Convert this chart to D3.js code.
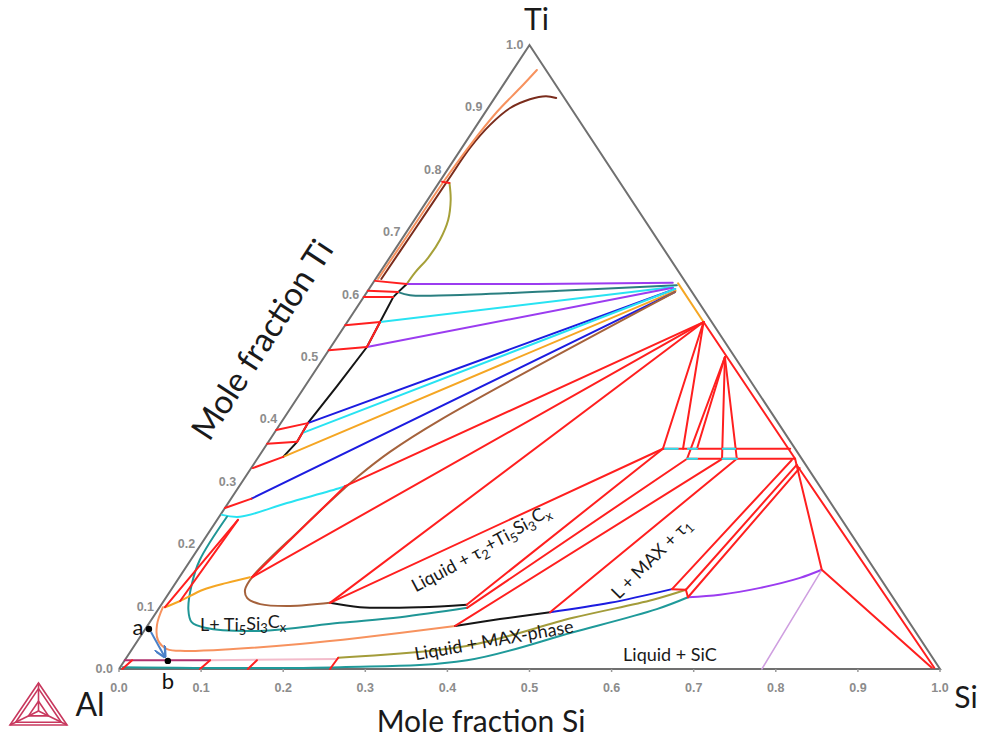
<!DOCTYPE html>
<html><head><meta charset="utf-8">
<script src="https://cdn.jsdelivr.net/npm/d3@7"></script>
<style>
html,body{margin:0;background:#fff;}
svg{display:block;}
</style></head>
<body><svg id="chart" width="991" height="740"></svg>
<script>
// Al–Si–Ti ternary section. Every point is [xSi, xTi] (mole fraction); xAl = 1 - xSi - xTi.
const tickValues = [0, 0.1, 0.2, 0.3, 0.4, 0.5, 0.6, 0.7, 0.8, 0.9, 1.0];
const tickLabels = ["0.0","0.1","0.2","0.3","0.4","0.5","0.6","0.7","0.8","0.9","1.0"];

// Ti-rich corner
const tiSalmon = [[0.029,0.960],[0.023,0.931],[0.014,0.893],[0.008,0.840],[0.005,0.784],[0.004,0.700],[0.003,0.625]];
const tiBrown  = [[0.075,0.915],[0.061,0.918],[0.044,0.913],[0.027,0.899],[0.016,0.872],[0.010,0.835],[0.009,0.784],[0.008,0.700],[0.007,0.625]];
const tiOlive  = [[0.013,0.779],[0.028,0.752],[0.041,0.720],[0.047,0.688],[0.047,0.659],[0.043,0.636],[0.042,0.617]];
const leftBlack = [[0.042,0.617],[0.038,0.604],[0.036,0.596],[0.040,0.556],[0.044,0.516],[0.039,0.455],[0.033,0.394],[0.035,0.364],[0.030,0.340]];

// boundaries running to the Ti5Si3-side node
const purpleA = [[0.042,0.617],[0.200,0.617],[0.365,0.619]];
const tealA   = [[0.038,0.604],[0.055,0.599],[0.104,0.599],[0.234,0.606],[0.372,0.615]];
const cyanA   = [[0.040,0.556],[0.369,0.612]];
const purpleB = [[0.044,0.516],[0.369,0.611]];
const blueA   = [[0.033,0.394],[0.373,0.609]];
const cyanB   = [[0.034,0.378],[0.373,0.609]];
const goldA   = [[0.030,0.340],[0.375,0.606]];
const blueB   = [[0.025,0.273],[0.375,0.604]];
const goldB   = [[0.372,0.618],[0.434,0.556]];
const brownLoop = [[0.375,0.604],[0.1915,0.399],[0.156,0.348],[0.137,0.309],[0.130,0.290],[0.109,0.223],[0.0885,0.147],[0.090,0.127],[0.099,0.114],[0.120,0.104],[0.158,0.101],[0.204,0.106]];
const cyanC   = [[0.002,0.247],[0.0254,0.244],[0.0716,0.266],[0.124,0.290],[0.129,0.293]];

// Al-rich liquid boundaries
const blackLow  = [[0.204,0.106],[0.244,0.099],[0.317,0.099],[0.372,0.103]];
const tealLoop  = [[0.0095,0.244],[0.011,0.175],[0.021,0.135],[0.037,0.095],[0.051,0.075],[0.072,0.066],[0.141,0.061],[0.232,0.074],[0.301,0.083],[0.375,0.098]];
const goldLow   = [[0.086,0.147],[0.0625,0.138],[0.039,0.127],[0.020,0.109],[0.0065,0.099]];
const salmonLow = [[0.004,0.099],[0.011,0.0705],[0.0245,0.046],[0.0425,0.032],[0.066,0.029],[0.123,0.032],[0.2005,0.040],[0.2685,0.050],[0.375,0.069]];
const blackMid  = [[0.375,0.069],[0.424,0.080],[0.4795,0.091]];
const blueLow   = [[0.4795,0.091],[0.545,0.106],[0.6096,0.128]];
const oliveLow  = [[0.258,0.018],[0.405,0.037],[0.512,0.082],[0.595,0.111],[0.627,0.127]];
const tealLow   = [[0.003,0.003],[0.268,0.003],[0.417,0.014],[0.5235,0.059],[0.607,0.096],[0.6355,0.115]];
const purpleRight = [[0.6355,0.115],[0.6725,0.119],[0.716,0.130],[0.7565,0.146],[0.7765,0.159]];
const lilacLine = [[0.7765,0.159],[0.783,0.0]];
const magentaLine = [[0.0,0.014],[0.104,0.014]];
const pinkLine = [[0.104,0.014],[0.258,0.016]];

// tie-lines
const leftTies = [
  [[0.003,0.781],[0.013,0.779]],
  [[0.001,0.622],[0.042,0.617]],
  [[0.0,0.606],[0.038,0.604]],
  [[0.0,0.596],[0.036,0.596]],
  [[0.0,0.551],[0.040,0.556]],
  [[0.0,0.511],[0.044,0.516]],
  [[0.040,0.556],[0.044,0.516]],
  [[0.0,0.383],[0.033,0.394]],
  [[0.0,0.361],[0.035,0.364]],
  [[0.033,0.394],[0.035,0.364]],
  [[0.002,0.322],[0.030,0.340]],
  [[0.0,0.258],[0.025,0.273]],
  [[0.0254,0.239],[0.0065,0.099]],
  [[0.0254,0.239],[0.020,0.109]]
];
const fanTies = [
  [[0.434,0.556],[0.129,0.293]],
  [[0.434,0.556],[0.0885,0.147]],
  [[0.434,0.556],[0.204,0.106]],
  [[0.129,0.293],[0.0885,0.147]],
  [[0.204,0.106],[0.486,0.353]],
  [[0.372,0.103],[0.486,0.353]],
  [[0.375,0.098],[0.5235,0.337]],
  [[0.375,0.069],[0.5667,0.337]],
  [[0.4795,0.091],[0.584,0.337]],
  [[0.6096,0.128],[0.652,0.335]],
  [[0.627,0.127],[0.662,0.327]],
  [[0.6355,0.115],[0.668,0.322]],
  [[0.6096,0.128],[0.627,0.127]],
  [[0.627,0.127],[0.6355,0.115]]
];
const upperTies = [
  [[0.434,0.556],[0.486,0.353]],
  [[0.434,0.556],[0.5105,0.353]],
  [[0.488,0.500],[0.5235,0.337]],
  [[0.488,0.500],[0.5275,0.353]],
  [[0.488,0.500],[0.566,0.337]],
  [[0.488,0.500],[0.584,0.337]],
  [[0.486,0.353],[0.641,0.353]],
  [[0.5235,0.337],[0.655,0.337]],
  [[0.434,0.556],[0.655,0.337]],
  [[0.655,0.337],[0.7765,0.159],[0.989,0.002]],
  [[0.662,0.327],[0.992,0.002]]
];
const cyanSegments = [
  [[0.4886,0.353],[0.504,0.353]],
  [[0.5165,0.353],[0.5275,0.353]],
  [[0.559,0.353],[0.574,0.353]],
  [[0.5235,0.337],[0.5355,0.337]],
  [[0.5667,0.337],[0.584,0.337]]
];
const baseTies = [
  [[0.004,0.0],[0.009,0.014]],
  [[0.0987,0.0],[0.104,0.014]],
  [[0.157,0.0],[0.161,0.014]],
  [[0.257,0.0],[0.258,0.018]]
];

// marked alloy compositions
const pointNames = ["a", "b"];
const pointComp = [[0.0045,0.064],[0.053,0.013]];

// region labels
const regionText = ["Liquid + SiC", "Liquid + MAX-phase", "L+ Ti5Si3Cx", "Liquid + τ2+Ti5Si3Cx", "L + MAX + τ1"];
const regionComp = [[0.660,0.022],[0.435,0.046],[0.116,0.0705],[0.350,0.191],[0.564,0.1795]];

const svg = d3.select("#chart");
const x = d3.scaleLinear().domain([0, 1]).range([119, 940]);
const y = d3.scaleLinear().domain([0, 1]).range([669, 45]);
const px = d => x(d[0] + d[1] / 2);
const py = d => y(d[1]);
const straight = d3.line().x(px).y(py);
const smooth = d3.line().x(px).y(py).curve(d3.curveCatmullRom.alpha(0.5));

const g = svg.append("g");
function path(data, color, w, curved) {
  g.append("path").attr("d", (curved ? smooth : straight)(data))
    .attr("fill", "none").attr("stroke", color).attr("stroke-width", w || 2)
    .attr("stroke-linejoin", "round").attr("stroke-linecap", "round");
}

// triangle frame
const corners = [[0,0],[1,0],[0,1],[0,0]];
g.append("path").attr("d", straight(corners)).attr("fill", "none")
  .attr("stroke", "#707070").attr("stroke-width", 2).attr("stroke-linejoin", "miter");

// Ti corner
path(tiBrown, "#7a2c1c", 2, true);
path(tiSalmon, "#f7925e", 2, true);
path(tiOlive, "#a6a038", 2, true);
path(leftBlack, "#151515", 2, false);

// lines fanning into the node
path(purpleA, "#9b3cf0", 2, true);
path(tealA, "#2a7f80", 2, true);
path(cyanA, "#28e3f2", 2);
path(purpleB, "#9b3cf0", 2);
path(blueA, "#1c1ce0", 2);
path(cyanB, "#28e3f2", 2);
path(goldA, "#f5a623", 2);
path(blueB, "#1c1ce0", 2);
path(goldB, "#f5a623", 2);
path(brownLoop, "#a5623c", 2, true);
path(cyanC, "#28e3f2", 2, true);

// Al-rich side
path(tealLoop, "#1f9696", 2, true);
path(goldLow, "#f5a623", 2, true);
path(salmonLow, "#f7925e", 2, true);
path(blackLow, "#151515", 2, true);
path(blackMid, "#151515", 2, true);
path(blueLow, "#1c1ce0", 2, true);
path(oliveLow, "#a39c3a", 2, true);
path(tealLow, "#1f9a9a", 2, true);
path(purpleRight, "#9b3cf0", 2, true);
path(lilacLine, "#cf9fe0", 1.5);
path(magentaLine, "#b0306e", 2);
path(pinkLine, "#f3bccb", 2);

// tie-lines
[...leftTies, ...fanTies, ...upperTies, ...baseTies].forEach(d => path(d, "#ff1f1f", 2));
cyanSegments.forEach(d => path(d, "#28e3f2", 2));

// axis ticks and labels
const tk = svg.append("g").attr("font-family", "Liberation Sans, Arial, sans-serif")
  .attr("font-size", 12.5).attr("font-weight", "bold").attr("fill", "#8c8c8c");
tickValues.forEach((v, i) => {
  tk.append("line").attr("x1", px([v, 0])).attr("x2", px([v, 0]))
    .attr("y1", py([v, 0])).attr("y2", py([v, 0]) + 3).attr("stroke", "#999").attr("stroke-width", 1.5);
  tk.append("text").attr("x", px([v, 0])).attr("y", py([v, 0]) + 23)
    .attr("text-anchor", "middle").text(tickLabels[i]);
  tk.append("text").attr("x", px([0, v]) - 6).attr("y", py([0, v]) + 4)
    .attr("text-anchor", "end").text(tickLabels[i]);
});

// corner and axis titles
const title = svg.append("g").attr("font-family", "Lato, 'Open Sans', sans-serif").attr("fill", "#1a1a1a");
title.append("text").attr("x", px([0, 1]) + 7).attr("y", 30).attr("text-anchor", "middle")
  .attr("font-size", 30).text("Ti");
title.append("text").attr("x", px([1, 0]) + 26).attr("y", 708).attr("text-anchor", "middle")
  .attr("font-size", 30).text("Si");
title.append("text").attr("x", 90).attr("y", 716).attr("text-anchor", "middle")
  .attr("font-size", 32).text("Al");
title.append("text").attr("x", 481).attr("y", 732).attr("text-anchor", "middle")
  .attr("font-size", 30).text("Mole fraction Si");
title.append("text").attr("transform", "translate(272,346) rotate(-57)").attr("text-anchor", "middle")
  .attr("font-size", 33).text("Mole fraction Ti");

// program logo beside the Al corner
const logo = svg.append("g").attr("fill", "none").attr("stroke", "#c8385e").attr("stroke-width", 1.6);
const L = [[10, 725], [67, 725], [38.5, 683]];
const C = [38.5, 711];
logo.append("polygon").attr("points", L.map(p => p.join(",")).join(" "));
logo.append("polygon").attr("points", L.map(p => [C[0] + (p[0] - C[0]) * 0.8, C[1] + (p[1] - C[1]) * 0.8].join(",")).join(" "));
logo.append("polygon").attr("points", L.map(p => [C[0] + (p[0] - C[0]) * 0.35, C[1] + (p[1] - C[1]) * 0.35].join(",")).join(" "));
L.forEach(p => logo.append("line").attr("x1", p[0]).attr("y1", p[1]).attr("x2", C[0]).attr("y2", C[1]));

// region labels
const rl = svg.append("g").attr("font-family", "Lato, 'Open Sans', sans-serif").attr("fill", "#1a1a1a").attr("font-size", 18);
const angles = [0, -10, 0, -28, -45];
function richText(sel, str) {
  // the character after an element symbol or τ is written as a subscript
  const parts = str.match(/τ\d|Ti\d|Si\d|Cx|[^τTSC]+|[TSC]/g);
  let low = false;
  parts.forEach(p => {
    const m = p.match(/^(τ|Ti|Si|C)(\d|x)$/);
    const base = sel.append("tspan").text(m ? m[1] : p);
    if (low) { base.attr("dy", "-0.3em"); low = false; }
    if (m) {
      sel.append("tspan").attr("dy", "0.3em").attr("font-size", "72%").text(m[2]);
      low = true;
    }
  });
}
regionText.forEach((t, i) => {
  const tx = rl.append("text").attr("text-anchor", "middle")
    .attr("transform", `translate(${px(regionComp[i])},${py(regionComp[i]) + 6}) rotate(${angles[i]})`);
  richText(tx, t);
});

// marked compositions a -> b
svg.append("defs").append("marker").attr("id", "arr").attr("viewBox", "0 0 10 10")
  .attr("refX", 9).attr("refY", 5).attr("markerWidth", 6).attr("markerHeight", 6).attr("orient", "auto")
  .append("path").attr("d", "M0,0 L10,5 L0,10").attr("fill", "none").attr("stroke", "#4a80c8").attr("stroke-width", 2);
svg.append("line").attr("x1", px(pointComp[0]) + 2).attr("y1", py(pointComp[0]) + 3)
  .attr("x2", px(pointComp[1]) - 3).attr("y2", py(pointComp[1]) - 4)
  .attr("stroke", "#4a80c8").attr("stroke-width", 2).attr("marker-end", "url(#arr)");
svg.selectAll("circle.pt").data(pointComp).join("circle").attr("class", "pt")
  .attr("cx", px).attr("cy", py).attr("r", 3.2).attr("fill", "#000");
const pl = svg.append("g").attr("font-family", "Lato, 'Open Sans', sans-serif").attr("font-size", 22).attr("fill", "#111");
pl.append("text").attr("x", px(pointComp[0]) - 11).attr("y", py(pointComp[0]) + 6).attr("text-anchor", "middle").text(pointNames[0]);
pl.append("text").attr("x", px(pointComp[1])).attr("y", py(pointComp[1]) + 28).attr("text-anchor", "middle").text(pointNames[1]);
</script>
</body></html>
